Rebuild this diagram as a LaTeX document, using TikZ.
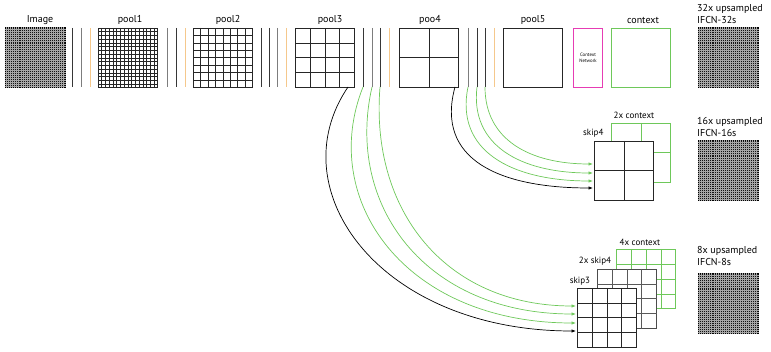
\documentclass[tikz,border=0pt]{standalone}
\usepackage{fontspec}
\setmainfont{PT Sans}
\usetikzlibrary{arrows.meta,calc}
\definecolor{gr}{RGB}{110,200,90}
\definecolor{mag}{RGB}{230,60,180}
\definecolor{org}{RGB}{245,200,140}
\definecolor{dk}{RGB}{55,55,55}
\definecolor{md}{RGB}{125,125,125}
\newcommand{\gridin}[4]{\foreach \k in {1,...,#2}{%
  \draw[#4] ($(#1.north west)!\k/#3!(#1.north east)$) -- ($(#1.south west)!\k/#3!(#1.south east)$);
  \draw[#4] ($(#1.north west)!\k/#3!(#1.south west)$) -- ($(#1.north east)!\k/#3!(#1.south east)$);}}
\begin{document}
\begin{tikzpicture}[x=1pt,y=-1pt,
  box/.style={draw=black!85, line width=0.9pt, inner sep=0pt, minimum width=59pt, minimum height=59pt, anchor=north west, fill=white},
  dense/.style={box, minimum width=60pt, minimum height=60pt, draw=black, fill=black!92, line width=1pt},
  dline/.style={line width=0.5pt, black!35},
  gbox/.style={box, draw=gr},
  lbl/.style={font=\fontsize{10}{12}\selectfont, inner sep=0pt},
  slbl/.style={font=\fontsize{9}{11}\selectfont, inner sep=0pt},
  sep/.style={line width=1pt},
  arr/.style={line width=0.7pt, -{Latex[length=4.5pt,width=3.5pt]}},
  ]
\useasboundingbox (0,0) rectangle (771,352);
% ---- top row boxes
\node[dense] (img) at (4.5,27.5) {};
\gridin{img}{29}{30}{dline}
\node[box] (p1) at (98,28) {};
\gridin{p1}{15}{16}{line width=0.8pt, black!85}
\node[box] (p2) at (193,28) {};
\gridin{p2}{7}{8}{line width=0.9pt, black!85}
\node[box] (p3) at (295,28) {};
\gridin{p3}{3}{4}{line width=0.9pt, black!85}
\node[box] (p4) at (399,28) {};
\gridin{p4}{1}{2}{line width=0.9pt, black!85}
\node[box] (p5) at (503,28) {};
\node[box, draw=mag, minimum width=29pt, line width=1.1pt] (cn) at (573,28) {};
\node[font=\fontsize{4.8}{5.6}\selectfont, align=center, inner sep=0pt] (cnl) at (cn.center) {Context\\Network};
\node[gbox] (ctx) at (611,28) {};
\node[dense] (o32) at (697.5,27.5) {};
\gridin{o32}{29}{30}{dline}
% ---- labels
\node[lbl] (limg) at (40,20) {Image};
\node[lbl] (lp1) at (130,20) {pool1};
\node[lbl] (lp2) at (228,20) {pool2};
\node[lbl] (lp3) at (330,20) {pool3};
\node[lbl] (lp4) at (430,20) {poo4};
\node[lbl] (lp5) at (533,20) {pool5};
\node[lbl] (lctx) at (643,20) {context};
\node[lbl, align=left, anchor=north west] (l32) at (697,4) {32x upsampled\\IFCN-32s};
% ---- separator lines
\foreach \xx/\cc in {72/dk,81/md,90/org,167/md,176/dk,185/org,261/dk,269/dk,277/md,286/org,363/dk,372/md,380/dk,389/org,468/md,477/dk,485/dk,494/org}{
  \draw[sep, \cc] (\xx,28) -- (\xx,87);
}
% ---- skip4 stage
\node[gbox] (c2) at (611,123) {};
\gridin{c2}{1}{2}{line width=0.9pt, gr}
\node[box] (s4) at (594,141) {};
\gridin{s4}{1}{2}{line width=0.9pt, black!85}
\node[slbl, anchor=south west] (ls4) at (583,138) {skip4};
\node[slbl] (lc2) at (634,115) {2x context};
\node[dense] (o16) at (697.5,140.5) {};
\gridin{o16}{29}{30}{dline}
\node[lbl, align=left, anchor=north west] (l16) at (697,117) {16x upsampled\\IFCN-16s};
% ---- skip3 stage
\node[gbox] (c4) at (616,249) {};
\gridin{c4}{3}{4}{line width=0.8pt, gr}
\node[box, draw=black!70] (s42) at (597,269) {};
\gridin{s42}{3}{4}{line width=0.9pt, black!65}
\node[box] (s3) at (577,288) {};
\gridin{s3}{3}{4}{line width=0.9pt, black!85}
\node[slbl] (lc4) at (640,242) {4x context};
\node[slbl] (ls42) at (595,261) {2x skip4};
\node[slbl] (ls3) at (580,281) {skip3};
\node[dense] (o8) at (697.5,273.5) {};
\gridin{o8}{29}{30}{dline}
\node[lbl, align=left, anchor=north west] (l8) at (697,246) {8x upsampled\\IFCN-8s};
% ---- connector endpoints
\coordinate (a3) at (348,87);
\coordinate (g31) at (363,87);
\coordinate (g32) at (372,87);
\coordinate (g33) at (380,87);
\coordinate (a4) at (455,87);
\coordinate (g41) at (468,87);
\coordinate (g42) at (477,87);
\coordinate (g43) at (485,87);
\coordinate (e3k) at (576,331);
\coordinate (e31) at (576,323);
\coordinate (e32) at (576,314);
\coordinate (e33) at (576,306);
\coordinate (e4k) at (593,188);
\coordinate (e41) at (593,181);
\coordinate (e42) at (593,173);
\coordinate (e43) at (593,164);
% ---- connectors to skip3
\draw[arr, black] (a3) .. controls (278,190) and (380,331) .. (e3k);
\draw[arr, gr] (g31) .. controls (318,200) and (405,323) .. (e31);
\draw[arr, gr] (g32) .. controls (345,205) and (425,314) .. (e32);
\draw[arr, gr] (g33) .. controls (370,210) and (445,306) .. (e33);
% ---- connectors to skip4
\draw[arr, black] (a4) .. controls (435,160) and (500,188) .. (e4k);
\draw[arr, gr] (g41) .. controls (455,150) and (510,181) .. (e41);
\draw[arr, gr] (g42) .. controls (470,145) and (520,173) .. (e42);
\draw[arr, gr] (g43) .. controls (485,140) and (530,164) .. (e43);
\end{tikzpicture}
\end{document}
